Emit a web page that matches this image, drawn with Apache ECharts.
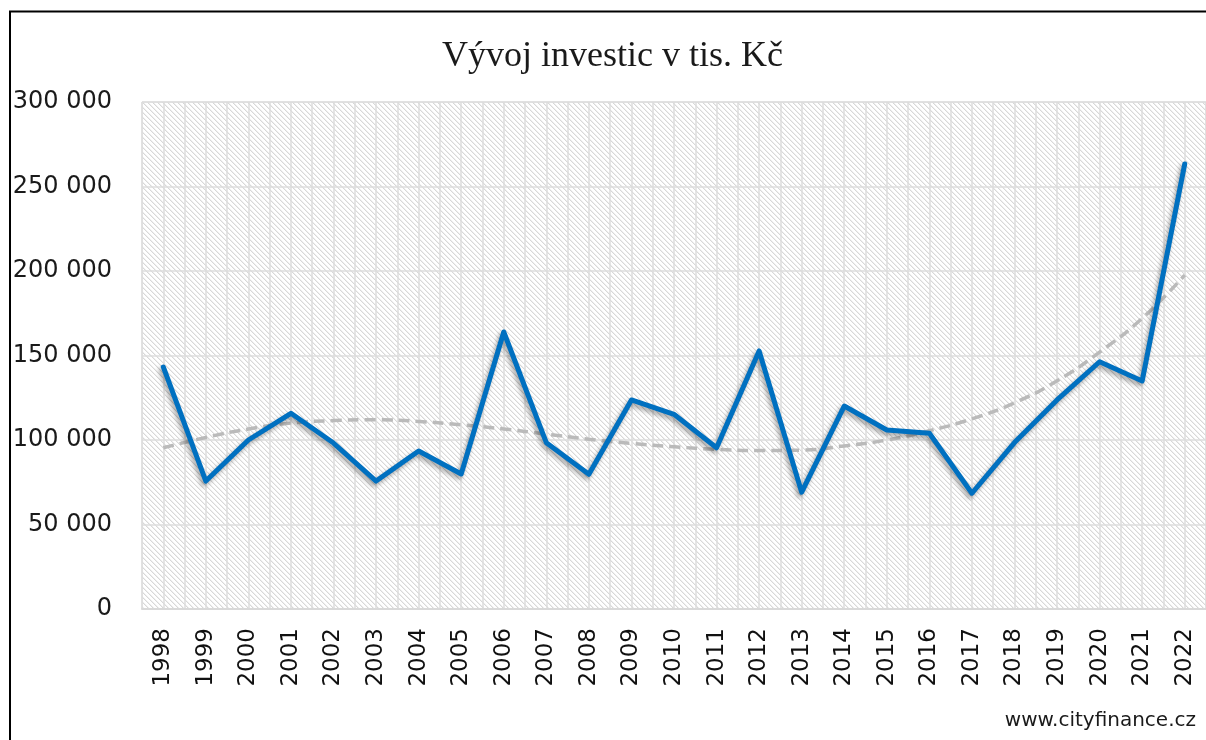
<!DOCTYPE html>
<html>
<head>
<meta charset="utf-8">
<script src="https://cdn.jsdelivr.net/npm/echarts@6/dist/echarts.min.js"></script>
<style>
html,body{margin:0;padding:0;background:#fff;}
#chart{width:1206px;height:740px;}
</style>
</head>
<body>
<div id="chart"></div>
<script>
const years = ['1998','1999','2000','2001','2002','2003','2004','2005','2006','2007','2008','2009','2010','2011','2012','2013','2014','2015','2016','2017','2018','2019','2020','2021','2022'];
const investments = [143200, 75700, 100000, 115800, 98200, 75700, 93500, 79900, 163900, 98400, 79700, 123700, 115200, 95400, 152700, 69100, 120100, 105900, 104000, 68500, 98500, 123700, 146300, 134900, 263300];
const trend = [95400, 101500, 106500, 110000, 111500, 112000, 111000, 109000, 106500, 103500, 100500, 98000, 96000, 94500, 93800, 94000, 96500, 100000, 105500, 112500, 122000, 135000, 152000, 172000, 197600];
const yTicks = {min: 0, max: 300000, interval: 50000};
const titleText = 'Vývoj investic v tis. Kč';
const watermark = 'www.cityfinance.cz';

// half-category helper axis for the extra vertical gridlines
const halfCats = [];
years.forEach(y => { halfCats.push(y + 'a'); halfCats.push(y + 'b'); });

// hatch pattern tile
const T = 5;
const tile = document.createElement('canvas');
tile.width = T; tile.height = T;
const tctx = tile.getContext('2d');
tctx.fillStyle = '#ffffff';
tctx.fillRect(0, 0, T, T);
for (let i = 0; i < T; i++) {
  tctx.fillStyle = '#d8d8d8';
  tctx.fillRect(i, i, 1, 1);
  tctx.fillStyle = '#efefef';
  tctx.fillRect((i + 1) % T, i, 1, 1);
}

function fmt(v) {
  return String(v).replace(/\B(?=(\d{3})+(?!\d))/g, ' ');
}

const chart = echarts.init(document.getElementById('chart'), null, {renderer: 'canvas'});
chart.setOption({
  animation: false,
  backgroundColor: '#ffffff',
  title: {
    text: titleText,
    left: 437,
    top: 34,
    textStyle: {fontFamily: 'Liberation Serif', fontSize: 36, fontWeight: 'normal', color: '#1a1a1a'}
  },
  graphic: [
    {type: 'rect', shape: {x: 10, y: 11.5, width: 1400, height: 900}, style: {fill: 'none', stroke: '#000', lineWidth: 2}, silent: true, z: 100},
    {type: 'text', right: 10, top: 711, style: {text: watermark, font: '20px "DejaVu Sans"', fill: '#1a1a1a'}, z: 100}
  ],
  grid: {
    left: 142, right: 0, top: 102, bottom: 131,
    show: true,
    backgroundColor: {image: tile, repeat: 'repeat'},
    borderColor: '#dadada', borderWidth: 1
  },
  xAxis: [
    {
      type: 'category', data: years, boundaryGap: true,
      axisLine: {show: true, lineStyle: {color: '#d9d9d9', width: 2}},
      axisTick: {show: false},
      splitLine: {show: false},
      axisLabel: {rotate: 90, margin: 19, interval: 0, fontFamily: 'DejaVu Sans', fontSize: 23, color: '#111'}
    },
    {
      type: 'category', data: halfCats, boundaryGap: true, position: 'bottom',
      axisLine: {show: false}, axisTick: {show: false}, axisLabel: {show: false},
      splitLine: {show: true, interval: 0, lineStyle: {color: '#dcdcdc', width: 1.5}}
    }
  ],
  yAxis: {
    type: 'value', min: yTicks.min, max: yTicks.max, interval: yTicks.interval,
    axisLine: {show: false}, axisTick: {show: false},
    splitLine: {show: true, lineStyle: {color: '#dcdcdc', width: 1.5}},
    axisLabel: {margin: 30, formatter: fmt, fontFamily: 'DejaVu Sans', fontSize: 24, color: '#1a1a1a'}
  },
  series: [
    {
      name: 'trend', type: 'line', data: trend, xAxisIndex: 0, symbol: 'none', smooth: true,
      lineStyle: {color: '#bababa', width: 3.5, type: [11, 6]}, z: 2
    },
    {
      name: 'investice', type: 'line', data: investments, xAxisIndex: 0, symbol: 'none',
      lineStyle: {color: '#0070c0', width: 5, cap: 'round', join: 'round',
        shadowColor: 'rgba(0,0,0,0.35)', shadowBlur: 4, shadowOffsetX: -2, shadowOffsetY: 3},
      z: 3
    }
  ]
});
</script>
</body>
</html>
